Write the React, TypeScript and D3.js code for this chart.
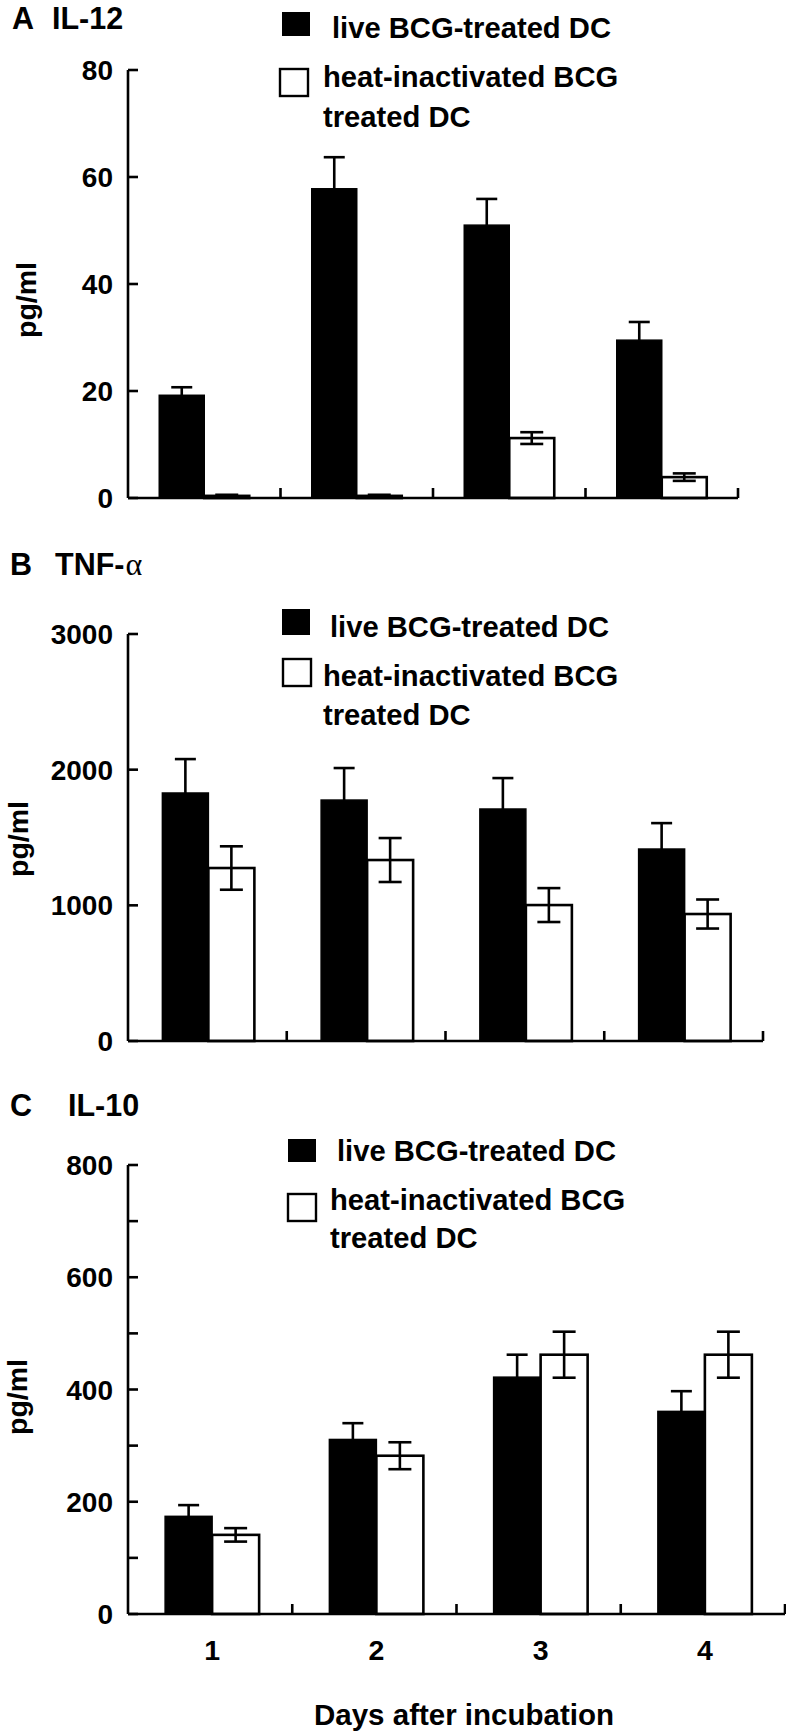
import React from "react";
import * as d3 from "d3";

// ---------- data ----------
const days = ["1", "2", "3", "4"];

const il12Live = [19.2, 57.8, 51.0, 29.5];
const il12LiveErr = [1.5, 5.9, 4.9, 3.4];
const il12Heat = [0.4, 0.4, 11.2, 3.9];
const il12HeatErr = [0.2, 0.2, 1.1, 0.7];
const il12Ticks = [0, 20, 40, 60, 80];

const tnfLive = [1828, 1776, 1710, 1415];
const tnfLiveErr = [250, 236, 228, 191];
const tnfHeat = [1275, 1334, 1002, 936];
const tnfHeatErr = [160, 162, 125, 107];
const tnfTicks = [0, 1000, 2000, 3000];

const il10Live = [174, 311, 422, 361];
const il10LiveErr = [20, 29, 40, 36];
const il10Heat = [141, 282, 462, 462];
const il10HeatErr = [12, 24, 41, 41];
const il10Ticks = [0, 200, 400, 600, 800];
const il10MinorTicks = [100, 300, 500, 700];

const legendLive = "live BCG-treated DC";
const legendHeat1 = "heat-inactivated BCG";
const legendHeat2 = "treated DC";
const yLabel = "pg/ml";
const xLabel = "Days after incubation";

// ---------- layout ----------
const FONT = "'Liberation Sans', Arial, Helvetica, sans-serif";

const panels = [
  {
    letter: "A", title: "IL-12", alpha: false,
    live: il12Live, liveErr: il12LiveErr, heat: il12Heat, heatErr: il12HeatErr,
    ticks: il12Ticks, minor: [] as number[],
    yTop: 70, yBottom: 498, xEnd: 738, barW: 45, shift: 0, tickFont: 28,
    titleY: 29, letterX: 12, titleX: 52,
    yLabX: 36, yLabY: 300,
    leg: { bx: 282, by: 12, bw: 28, bh: 24, t1x: 332, t1y: 38, wx: 280, wy: 69, ww: 28, wh: 27, t2x: 323, t2y: 87, t3y: 127 },
    showX: false,
  },
  {
    letter: "B", title: "TNF-", alpha: true,
    live: tnfLive, liveErr: tnfLiveErr, heat: tnfHeat, heatErr: tnfHeatErr,
    ticks: tnfTicks, minor: [] as number[],
    yTop: 634, yBottom: 1041, xEnd: 763, barW: 46, shift: 1, tickFont: 28,
    titleY: 575, letterX: 10, titleX: 55,
    yLabX: 28, yLabY: 839,
    leg: { bx: 282, by: 609, bw: 28, bh: 26, t1x: 330, t1y: 637, wx: 283, wy: 659, ww: 28, wh: 27, t2x: 323, t2y: 686, t3y: 725 },
    showX: false,
  },
  {
    letter: "C", title: "IL-10", alpha: false,
    live: il10Live, liveErr: il10LiveErr, heat: il10Heat, heatErr: il10HeatErr,
    ticks: il10Ticks, minor: il10MinorTicks,
    yTop: 1165, yBottom: 1614, xEnd: 785, barW: 47, shift: 2, tickFont: 28,
    titleY: 1116, letterX: 10, titleX: 68,
    yLabX: 27, yLabY: 1397,
    leg: { bx: 288, by: 1139, bw: 28, bh: 23, t1x: 337, t1y: 1161, wx: 288, wy: 1194, ww: 28, wh: 27, t2x: 330, t2y: 1210, t3y: 1248 },
    showX: true,
  },
];

const AX = 128;
const SW = 2.6;
const LEG_FS = 29.2;
const TITLE_FS = 30.5;

function Panel({ p }: { p: (typeof panels)[number] }) {
  const yMax = p.ticks[p.ticks.length - 1];
  const y = d3.scaleLinear().domain([0, yMax]).range([p.yBottom, p.yTop]);
  const x = d3.scaleLinear().domain([0, days.length]).range([AX, p.xEnd]);
  const capL = 21;
  const capW = 23;
  return (
    <g>
      {/* title */}
      <text x={p.letterX} y={p.titleY} fontSize={TITLE_FS} fontWeight="bold" fontFamily={FONT}>{p.letter}</text>
      <text x={p.titleX} y={p.titleY} fontSize={TITLE_FS} fontWeight="bold" fontFamily={FONT}>
        {p.title}
        {p.alpha && (
          <tspan fontFamily="'Liberation Serif', 'DejaVu Serif', serif" fontWeight="normal" fontSize={32} dx={1}>α</tspan>
        )}
      </text>

      {/* legend */}
      <rect x={p.leg.bx} y={p.leg.by} width={p.leg.bw} height={p.leg.bh} fill="#000" />
      <text x={p.leg.t1x} y={p.leg.t1y} fontSize={LEG_FS} fontWeight="bold" fontFamily={FONT}>{legendLive}</text>
      <rect x={p.leg.wx} y={p.leg.wy} width={p.leg.ww} height={p.leg.wh} fill="#fff" stroke="#000" strokeWidth={2.4} />
      <text x={p.leg.t2x} y={p.leg.t2y} fontSize={LEG_FS} fontWeight="bold" fontFamily={FONT}>{legendHeat1}</text>
      <text x={p.leg.t2x} y={p.leg.t3y} fontSize={LEG_FS} fontWeight="bold" fontFamily={FONT}>{legendHeat2}</text>

      {/* y label */}
      <text transform={`translate(${p.yLabX},${p.yLabY}) rotate(-90)`} textAnchor="middle" fontSize={28.5} fontWeight="bold" fontFamily={FONT}>{yLabel}</text>

      {/* bars */}
      {days.map((d, i) => {
        const c = (x(i) + x(i + 1)) / 2 + p.shift;
        const lv = p.live[i];
        const hv = p.heat[i];
        const lx = c - p.barW;
        const hx = c;
        const lc = lx + p.barW / 2;
        const hc = hx + p.barW / 2;
        return (
          <g key={d}>
            <rect x={lx} y={y(lv)} width={p.barW} height={y(0) - y(lv)} fill="#000" stroke="#000" strokeWidth={1.5} />
            <line x1={lc} x2={lc} y1={y(lv)} y2={y(lv + p.liveErr[i])} stroke="#000" strokeWidth={SW} />
            <line x1={lc - capL / 2} x2={lc + capL / 2} y1={y(lv + p.liveErr[i])} y2={y(lv + p.liveErr[i])} stroke="#000" strokeWidth={SW} />
            <rect x={hx} y={y(hv)} width={p.barW} height={y(0) - y(hv)} fill="#fff" stroke="#000" strokeWidth={SW} />
            <line x1={hc} x2={hc} y1={y(hv - p.heatErr[i])} y2={y(hv + p.heatErr[i])} stroke="#000" strokeWidth={SW} />
            <line x1={hc - capW / 2} x2={hc + capW / 2} y1={y(hv + p.heatErr[i])} y2={y(hv + p.heatErr[i])} stroke="#000" strokeWidth={SW} />
            <line x1={hc - capW / 2} x2={hc + capW / 2} y1={y(hv - p.heatErr[i])} y2={y(hv - p.heatErr[i])} stroke="#000" strokeWidth={SW} />
            {p.showX && (
              <text x={c} y={p.yBottom + 46} textAnchor="middle" fontSize={28.5} fontWeight="bold" fontFamily={FONT}>{d}</text>
            )}
          </g>
        );
      })}

      {/* y axis */}
      <line x1={AX} x2={AX} y1={y(yMax)} y2={y(0)} stroke="#000" strokeWidth={SW} />
      {p.ticks.map((t) => (
        <g key={t}>
          <line x1={AX} x2={AX + 10} y1={y(t)} y2={y(t)} stroke="#000" strokeWidth={SW} />
          <text x={113} y={y(t) + p.tickFont * 0.36} textAnchor="end" fontSize={p.tickFont} fontWeight="bold" fontFamily={FONT}>{t}</text>
        </g>
      ))}
      {p.minor.map((t) => (
        <line key={t} x1={AX} x2={AX + 10} y1={y(t)} y2={y(t)} stroke="#000" strokeWidth={SW} />
      ))}

      {/* x axis */}
      <line x1={AX} x2={p.xEnd} y1={y(0)} y2={y(0)} stroke="#000" strokeWidth={SW} />
      {days.map((d, i) => (
        <line key={d} x1={x(i + 1)} x2={x(i + 1)} y1={y(0)} y2={y(0) - 10} stroke="#000" strokeWidth={SW} />
      ))}
      {p.showX && (
        <text x={464} y={1725} textAnchor="middle" fontSize={29.5} fontWeight="bold" fontFamily={FONT}>{xLabel}</text>
      )}
    </g>
  );
}

export default function App() {
  return (
    <svg
      width={786}
      height={1731}
      viewBox="0 0 786 1731"
      style={{ position: "absolute", left: 0, top: 0, background: "#fff" }}
    >
      <rect x={0} y={0} width={786} height={1731} fill="#fff" />
      {panels.map((p) => (
        <Panel key={p.letter} p={p} />
      ))}
    </svg>
  );
}
